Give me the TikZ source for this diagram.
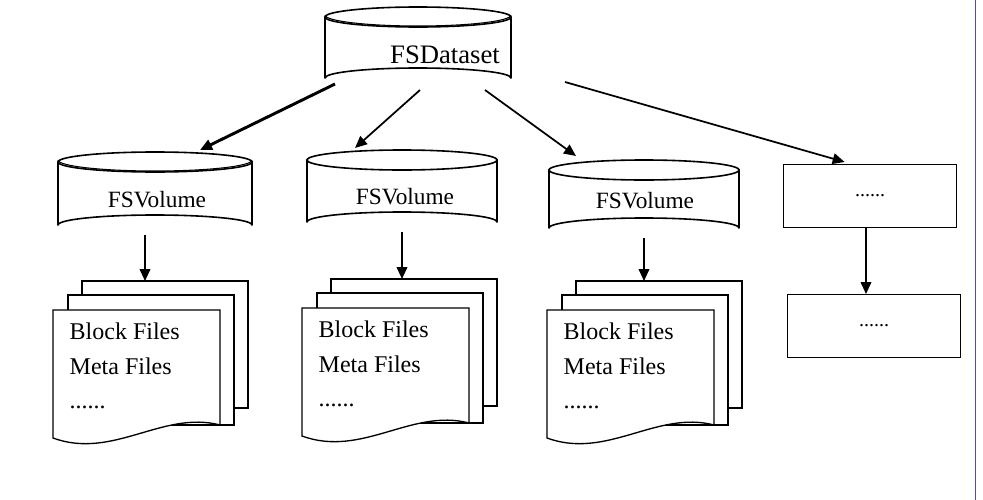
\documentclass[tikz,border=0pt]{standalone}
\usepackage{fontspec}
\setmainfont{Liberation Serif}
\usetikzlibrary{arrows.meta, positioning, calc}

% drum: name, centre x, top y, bottom y, half width
\newcommand{\drum}[5]{%
  \coordinate (#1-tl) at (#2-#5,#3);
  \coordinate (#1-bl) at (#2-#5,#4);
  \coordinate (#1-tr) at (#2+#5,#3);
  \coordinate (#1-br) at (#2+#5,#4);
  \fill[white] (#1-tl) rectangle (#1-br);
  \draw[line width=1.3pt, line cap=round] (#1-tl) -- (#1-bl);
  \draw[line width=1.3pt, line cap=round] (#1-tr) -- (#1-br);
  \draw[line width=1.2pt] (#1-bl)
    arc[start angle=180, end angle=360, x radius=#5, y radius=10];
  \draw[line width=1.2pt] (#2,#3) ellipse[x radius=#5, y radius=10];
  \coordinate (#1) at (#2,#3);
  \coordinate (#1-bot) at (#2,#4+10);}

% file stack: name, left x of front page, top y of front page
\newcommand{\filestack}[3]{%
  \draw[page] (#2+29,#3-29) rectangle (#2+195,#3+98);
  \draw[page] (#2+15,#3-15) rectangle (#2+181,#3+115);
  \draw[page] (#2,#3) -- (#2+167,#3) -- (#2+167,#3+115)
    .. controls (#2+110,#3+100) and (#2+60,#3+150) .. (#2,#3+128) -- cycle;
  \coordinate (#1) at (#2+92,#3-29);
  \node[files, anchor=north west] (#1-text) at (#2+12,#3+8)
    {Block Files\\Meta Files\\......};}

\begin{document}
\begin{tikzpicture}[x=0.75pt, y=-0.75pt,
    page/.style={line width=1pt, fill=white},
    files/.style={font=\fontsize{18}{26}\selectfont, align=left},
    label/.style={font=\fontsize{17.5}{20}\selectfont},
    box/.style={draw, line width=1pt, minimum width=130pt, minimum height=47pt,
      font=\fontsize{15}{17}\selectfont},
    link/.style={-{Triangle[length=9pt, width=8pt]}, line width=1.3pt}
]
    \useasboundingbox (0,0) rectangle (983,500);
    \draw[gray!60!blue, line width=0.6pt] (975,0) -- (975,500);

    % --- top ---
    \drum{ds}{418}{17}{78}{93}
    \draw[line width=0.8pt] (325,15) arc[start angle=180, end angle=0, x radius=93, y radius=11];
    \node[font=\fontsize{20}{22}\selectfont] (ds-text) at (445,55) {FSDataset};

    % --- volumes ---
    \drum{v1}{155}{162}{225}{97}
    \draw[line width=0.8pt] (58,160) arc[start angle=180, end angle=0, x radius=97, y radius=11];
    \node[label] (v1-text) at (157,200) {FSVolume};
    \drum{v2}{402}{160}{222}{95}
    \node[label] (v2-text) at (405,197) {FSVolume};
    \drum{v3}{644}{170}{228}{95}
    \node[label] (v3-text) at (645,201) {FSVolume};
    \node[box] (b1) at (870,196) {......};
    \node[box] (b2) at (874,326) {......};

    % --- file stacks ---
    \filestack{f1}{53}{310}
    \filestack{f2}{302}{308}
    \filestack{f3}{547}{310}

    % --- links ---
    \coordinate (ds-a) at (335,84);
    \coordinate (ds-b) at (420,90);
    \coordinate (ds-c) at (485,90);
    \coordinate (ds-d) at (565,82);
    \coordinate (v1-in) at (200,150);
    \coordinate (v2-in) at (355,148);
    \coordinate (v3-in) at (576,156);
    \coordinate (b1-in) at ($(b1.north west)+(62,-2)$);
    \draw[link, line width=2.2pt] (ds-a) -- (v1-in);
    \draw[link] (ds-b) -- (v2-in);
    \draw[link] (ds-c) -- (v3-in);
    \draw[link] (ds-d) -- (b1-in);
    \draw[link] (v1-bot -| 145,0) -- (f1 -| 145,0);
    \draw[link] (v2-bot) -- (f2 -| v2-bot);
    \draw[link] (v3-bot) -- (f3 -| v3-bot);
    \draw[link] (b1.south -| 866,0) -- (b2.north -| 866,0);
\end{tikzpicture}
\end{document}
